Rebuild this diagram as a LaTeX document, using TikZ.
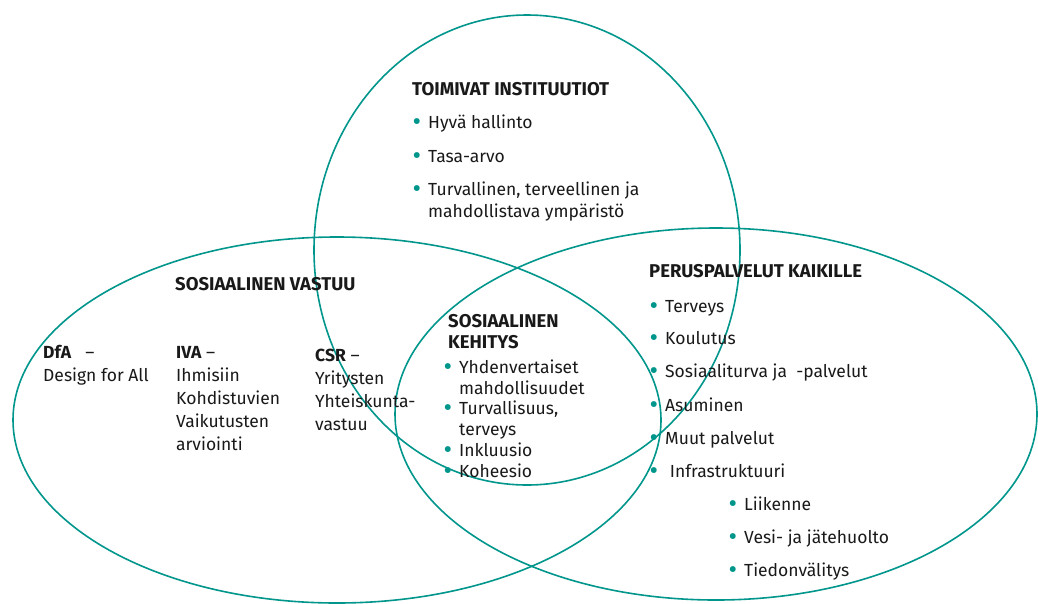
\documentclass[tikz,border=0pt]{standalone}
\usepackage{fontspec}
\setmainfont{Fira Sans}
\usetikzlibrary{positioning}
\definecolor{vtc}{RGB}{0,150,140}
\definecolor{ink}{RGB}{25,25,25}
\newcommand\bul{\llap{\textcolor{vtc}{\raisebox{-2.2pt}{\scalebox{1.5}{•}}}\hspace{7pt}}}
\newcommand\rows[1]{\begin{tabular}[t]{@{}l@{}}#1\end{tabular}}
\begin{document}
\begin{tikzpicture}[x=1pt,y=-1pt,
  ring/.style={draw=vtc,line width=1.6pt},
  txt/.style={anchor=base west,inner sep=0pt,text=ink,font=\fontsize{17.5}{23}\selectfont},
  head/.style={txt,font=\bfseries\fontsize{18.5}{21}\selectfont}]
\useasboundingbox (0,0) rectangle (1038,603);
\draw[ring] (337,420) ellipse [x radius=324pt,y radius=183pt];
\draw[ring] (527,250) ellipse [x radius=213pt,y radius=235pt];
\draw[ring] (716,414) ellipse [x radius=321pt,y radius=186pt];

\node[head] (toim) at (412,95) {TOIMIVAT INSTITUUTIOT};
\node[txt] (t1) at (428,128) {\bul Hyvä hallinto};
\node[txt] (t2) at (428,162) {\bul Tasa-arvo};
\node[txt,font=\fontsize{17.5}{22}\selectfont] (t3) at (428,195) {\rows{\bul Turvallinen, terveellinen ja\\mahdollistava ympäristö}};

\node[head] (vast) at (175,290) {SOSIAALINEN VASTUU};
\node[txt] (dfa) at (43,358) {\rows{\textbf{DfA}\ \ \ –\\Design for All}};
\node[txt] (iva) at (176,358) {\rows{\textbf{IVA} –\\Ihmisiin\\Kohdistuvien\\Vaikutusten\\arviointi}};
\node[txt] (csr) at (315,361) {\rows{\textbf{CSR} –\\Yritysten\\Yhteiskunta-\\vastuu}};

\node[head] (keh) at (448,327) {\rows{SOSIAALINEN\\KEHITYS}};
\node[txt,font=\fontsize{17.5}{21}\selectfont] (k1) at (459,373) {\rows{\bul Yhdenvertaiset\\mahdollisuudet}};
\node[txt,font=\fontsize{17.5}{21}\selectfont] (k2) at (459,414) {\rows{\bul Turvallisuus,\\terveys}};
\node[txt] (k3) at (459,456) {\bul Inkluusio};
\node[txt] (k4) at (459,477) {\bul Koheesio};

\node[head] (peru) at (649,277) {PERUSPALVELUT KAIKILLE};
\node[txt] (p1) at (665,312) {\bul Terveys};
\node[txt] (p2) at (665,344) {\bul Koulutus};
\node[txt] (p3) at (665,377) {\bul Sosiaaliturva ja\ \ -palvelut};
\node[txt] (p4) at (665,411) {\bul Asuminen};
\node[txt] (p5) at (665,444) {\bul Muut palvelut};
\node[txt] (p6) at (665,477) {\bul\ Infrastruktuuri};
\node[txt] (s1) at (744,510) {\bul Liikenne};
\node[txt] (s2) at (744,543) {\bul Vesi- ja jätehuolto};
\node[txt] (s3) at (744,576) {\bul Tiedonvälitys};
\end{tikzpicture}
\end{document}
